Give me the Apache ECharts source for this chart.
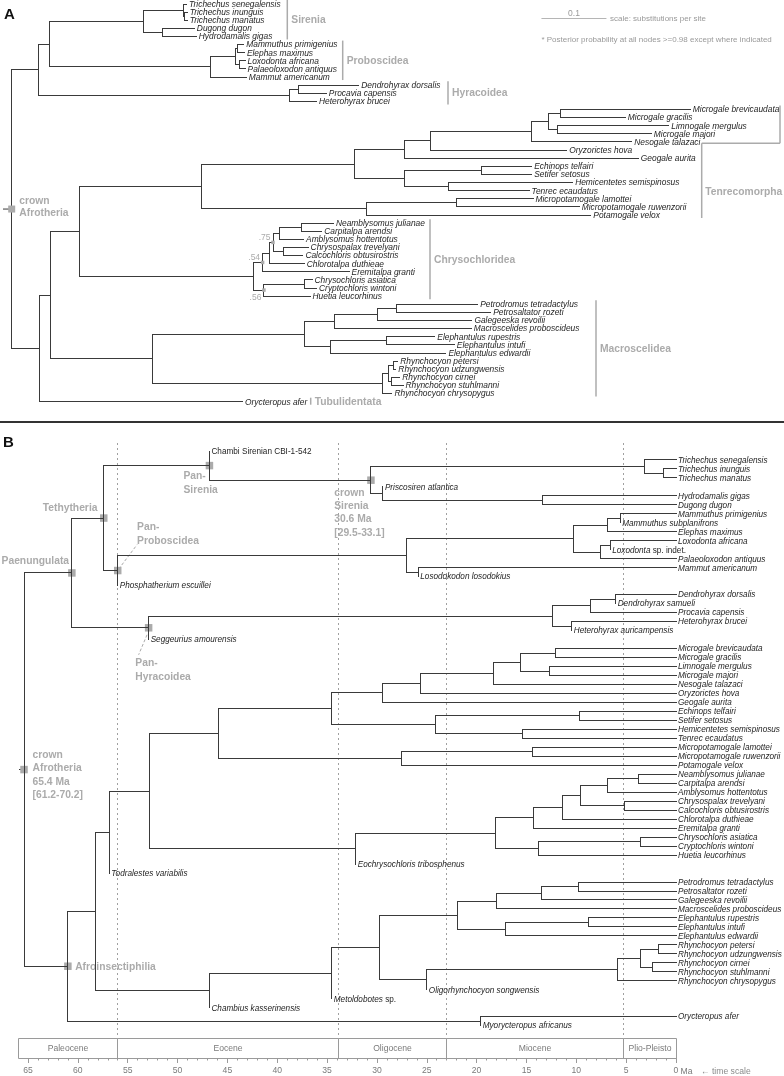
<!DOCTYPE html>
<html>
<head>
<meta charset="utf-8">
<script src="https://cdn.jsdelivr.net/npm/echarts@6/dist/echarts.min.js"></script>
<style>
html,body{margin:0;padding:0;background:#fff;}
#chart{width:784px;height:1076px;}
</style>
</head>
<body>
<div id="chart"></div>
<script>
// ================= PANEL A : phylogram (substitutions per site) =================
const tipsA = ['Trichechus senegalensis','Trichechus inunguis','Trichechus manatus','Dugong dugon','Hydrodamalis gigas',
 'Mammuthus primigenius','Elephas maximus','Loxodonta africana','Palaeoloxodon antiquus','Mammut americanum',
 'Dendrohyrax dorsalis','Procavia capensis','Heterohyrax brucei',
 'Microgale brevicaudata','Microgale gracilis','Limnogale mergulus','Microgale majori','Nesogale talazaci','Oryzorictes hova','Geogale aurita',
 'Echinops telfairi','Setifer setosus','Hemicentetes semispinosus','Tenrec ecaudatus','Micropotamogale lamottei','Micropotamogale ruwenzorii','Potamogale velox',
 'Neamblysomus julianae','Carpitalpa arendsi','Amblysomus hottentotus','Chrysospalax trevelyani','Calcochloris obtusirostris','Chlorotalpa duthieae','Eremitalpa granti',
 'Chrysochloris asiatica','Cryptochloris wintoni','Huetia leucorhinus',
 'Petrodromus tetradactylus','Petrosaltator rozeti','Galegeeska revoilii','Macroscelides proboscideus','Elephantulus rupestris','Elephantulus intufi','Elephantulus edwardii',
 'Rhynchocyon petersi','Rhynchocyon udzungwensis','Rhynchocyon cirnei','Rhynchocyon stuhlmanni','Rhynchocyon chrysopygus','Orycteropus afer'];
// root-to-tip distance of each tip
const tipLenA = [0.269,0.270,0.270,0.281,0.284, 0.357,0.358,0.359,0.359,0.361, 0.534,0.484,0.469,
 1.044,0.944,1.011,0.984,0.954,0.854,0.964, 0.800,0.800,0.863,0.796,0.802,0.873,0.891,
 0.495,0.477,0.449,0.456,0.448,0.450,0.519, 0.462,0.469,0.459,
 0.717,0.737,0.708,0.707,0.651,0.681,0.668, 0.594,0.591,0.597,0.602,0.585, 0.355];
// internal nodes: tip range covered and root-to-node distance
const nodeSpanA = [[0,49],[0,12],[0,9],[0,4],[0,2],[1,2],[3,4],[5,9],[5,8],[5,6],[7,8],[10,12],[10,11],
 [13,49],[13,48],[13,36],[13,26],[13,23],[13,19],[13,18],[13,17],[13,16],[13,14],[15,16],[20,23],[20,21],[22,23],[24,26],[24,25],
 [27,36],[27,33],[27,32],[27,31],[27,29],[27,28],[30,31],[34,36],[34,35],
 [37,48],[37,43],[37,40],[37,39],[37,38],[41,43],[41,42],[44,48],[44,47],[44,45],[46,47]];
const nodeLenA = [0,0.041,0.058,0.203,0.264,0.266,0.232,0.306,0.344,0.348,0.350,0.428,0.441,
 0.043,0.059,0.105,0.292,0.528,0.605,0.644,0.800,0.826,0.844,0.839,0.605,0.723,0.672,0.546,0.685,
 0.372,0.386,0.396,0.402,0.412,0.446,0.418,0.388,0.450,
 0.217,0.451,0.497,0.562,0.592,0.490,0.576,0.571,0.579,0.587,0.585];
const supportSpanA = [[27,31],[27,33],[34,36]];
const supportValA = ['.75','.54','.56'];
const cladeNamesA = ['Sirenia','Proboscidea','Hyracoidea','Tenrecomorpha','Chrysochloridea','Macroscelidea','Tubulidentata'];
const cladeTipsA = [[0,4],[5,9],[10,12],[13,26],[27,36],[37,48],[49,49]];
const scaleBarA = 0.1;

// ================= PANEL B : time tree (Ma) =================
const tipsB = ['Chambi Sirenian CBI-1-542','Trichechus senegalensis','Trichechus inunguis','Trichechus manatus','Priscosiren atlantica','Hydrodamalis gigas','Dugong dugon',
 'Mammuthus primigenius','Mammuthus subplanifrons','Elephas maximus','Loxodonta africana','Loxodonta sp. indet.','Palaeoloxodon antiquus','Mammut americanum','Losodokodon losodokius','Phosphatherium escuillei',
 'Dendrohyrax dorsalis','Dendrohyrax samueli','Procavia capensis','Heterohyrax brucei','Heterohyrax auricampensis','Seggeurius amourensis',
 'Microgale brevicaudata','Microgale gracilis','Limnogale mergulus','Microgale majori','Nesogale talazaci','Oryzorictes hova','Geogale aurita',
 'Echinops telfairi','Setifer setosus','Hemicentetes semispinosus','Tenrec ecaudatus','Micropotamogale lamottei','Micropotamogale ruwenzorii','Potamogale velox',
 'Neamblysomus julianae','Carpitalpa arendsi','Amblysomus hottentotus','Chrysospalax trevelyani','Calcochloris obtusirostris','Chlorotalpa duthieae','Eremitalpa granti',
 'Chrysochloris asiatica','Cryptochloris wintoni','Huetia leucorhinus','Eochrysochloris tribosphenus','Todralestes variabilis',
 'Petrodromus tetradactylus','Petrosaltator rozeti','Galegeeska revoilii','Macroscelides proboscideus','Elephantulus rupestris','Elephantulus intufi','Elephantulus edwardii',
 'Rhynchocyon petersi','Rhynchocyon udzungwensis','Rhynchocyon cirnei','Rhynchocyon stuhlmanni','Rhynchocyon chrysopygus','Oligorhynchocyon songwensis','Metoldobotes sp.','Chambius kasserinensis',
 'Orycteropus afer','Myorycteropus africanus'];
// tip age (Ma); null = fossil sampled on its node
const tipAgeB = [null,0,0,0,null,0,0, 0,null,0,0,null,0,0,null,null, 0,null,0,0,null,null,
 0,0,0,0,0,0,0, 0,0,0,0,0,0,0, 0,0,0,0,0,0,0, 0,0,0,null,null,
 0,0,0,0,0,0,0, 0,0,0,0,0,null,null,null, 0,null];
const nodeSpanB = [[0,64],[0,21],[0,15],[0,6],[1,6],[1,3],[2,3],[4,6],[5,6],
 [7,15],[7,14],[7,12],[7,9],[7,8],[10,12],[10,11],[13,14],
 [16,21],[16,20],[16,18],[16,17],[19,20],
 [22,64],[22,62],[22,47],[22,46],[22,35],[22,32],[22,28],[22,27],[22,26],[22,25],[22,23],[24,25],[29,32],[29,30],[31,32],[33,35],[33,34],
 [36,46],[36,45],[36,42],[36,41],[36,40],[36,38],[36,37],[39,40],[43,45],[43,44],
 [48,62],[48,61],[48,60],[48,54],[48,51],[48,50],[48,49],[52,54],[52,53],[55,60],[55,59],[55,58],[55,56],[57,58],[63,64]];
const nodeAgeB = [65.4,60.6,57.4,46.8,30.6,3.2,1.3,29.4,13.4,
 56.0,27.0,10.3,6.85,5.6,7.6,6.6,25.85,
 52.9,12.4,8.55,6.05,10.46,
 61.0,58.2,56.84,52.83,45.9,34.53,29.42,25.58,18.33,15.55,12.04,12.64,24.17,9.63,15.38,27.58,14.37,
 32.13,18.15,14.31,11.36,9.53,6.85,3.78,5.12,13.81,3.54,
 46.8,34.53,29.76,21.9,17.98,13.47,9.73,17.08,8.8,25.0,5.85,3.54,1.78,2.34,19.59];
const epochNames = ['Paleocene','Eocene','Oligocene','Miocene','Plio-Pleisto'];
const epochBounds = [66,56,33.9,23,5.3,0];

// ================= layout / style constants =================
const FONT = '"Liberation Sans", Arial, Helvetica, sans-serif';
const INK = '#3a3a3a';
const GREY = '#ababab';
const TS_TOP = 1038, TS_H = 20;

function layoutTree(spans, nodeVals, tipVals) {
  const nodes = spans.map((s, i) => ({from: s[0], to: s[1], x: nodeVals[i], key: s[0] + '-' + s[1]}));
  nodes.sort((a, b) => (b.to - b.from) - (a.to - a.from));
  const segs = [], pos = {}, tipPos = [];
  function visit(nd, parentX) {
    if (nd.tip !== undefined) {
      const x = tipVals[nd.tip] == null ? parentX : tipVals[nd.tip];
      tipPos[nd.tip] = [x, nd.tip];
      return {x: x, y: nd.tip};
    }
    const kids = [];
    let p = nd.from;
    while (p <= nd.to) {
      let best = null;
      for (const m of nodes) {
        if (m !== nd && m.from === p && m.to <= nd.to && (!best || m.to > best.to)) best = m;
      }
      if (best) { kids.push(best); p = best.to + 1; } else { kids.push({tip: p}); p++; }
    }
    const kp = kids.map(k => visit(k, nd.x));
    const y = (kp[0].y + kp[kp.length - 1].y) / 2;
    segs.push([nd.x, kp[0].y, nd.x, kp[kp.length - 1].y]);
    kp.forEach(c => { if (c.x !== nd.x) segs.push([nd.x, c.y, c.x, c.y]); });
    pos[nd.key] = [nd.x, y];
    return {x: nd.x, y: y};
  }
  visit(nodes[0], nodes[0].x);
  return {segs, pos, tipPos};
}
const LA = layoutTree(nodeSpanA, nodeLenA, tipLenA);
const LB = layoutTree(nodeSpanB, nodeAgeB, tipAgeB);

const px = v => Math.round(v - 0.5) + 0.5;
function segRender(color, width) {
  return function (params, api) {
    const a = api.coord([api.value(0), api.value(1)]);
    const b = api.coord([api.value(2), api.value(3)]);
    return {type: 'line', shape: {x1: px(a[0]), y1: px(a[1]), x2: px(b[0]), y2: px(b[1])},
      style: {stroke: color, lineWidth: width, lineCap: 'square'}};
  };
}
function tipStyle(name, size) {
  const base = {fill: '#1e1e1e', fontSize: size, fontFamily: FONT, align: 'left', verticalAlign: 'middle'};
  if (/CBI/.test(name)) return Object.assign(base, {text: name, fontStyle: 'normal'});
  const m = name.match(/^(\S+) (sp\..*)$/);
  if (m) {
    return Object.assign(base, {text: '{i|' + m[1] + '}{n| ' + m[2] + '}', rich: {
      i: {fontStyle: 'italic', fontSize: size, fontFamily: FONT, fill: '#1e1e1e'},
      n: {fontStyle: 'normal', fontSize: size, fontFamily: FONT, fill: '#1e1e1e'}}});
  }
  return Object.assign(base, {text: name, fontStyle: 'italic'});
}
function labelRender(names, dx, size) {
  return function (params, api) {
    const p = api.coord([api.value(0), api.value(1)]);
    return {type: 'text', x: p[0] + dx, y: p[1] + 0.5, style: tipStyle(names[api.value(2)], size)};
  };
}
function T(text, x, y, o) {
  return {type: 'text', x: x, y: y, style: Object.assign({text: text, fill: GREY, fontSize: 10.3, fontWeight: 'bold',
    fontFamily: FONT, align: 'left', verticalAlign: 'middle'}, o || {})};
}
function Ln(x1, y1, x2, y2, o) {
  return {type: 'line', shape: {x1: x1, y1: y1, x2: x2, y2: y2}, style: Object.assign({stroke: GREY, lineWidth: 1.5}, o || {})};
}
function Sq(x, y, s, c) {
  return {type: 'rect', shape: {x: x - s / 2, y: y - s / 2, width: s, height: s}, style: {fill: c || GREY}};
}

// ---- decorations panel A
const CLADE_BAR_X = [287.3, 342.7, 448, 701.7, 430, 596, 310.7];
function decorA(params, api) {
  const ch = [];
  const C = (x, y) => api.coord([x, y]);
  cladeNamesA.forEach((nm, k) => {
    const r = cladeTipsA[k];
    const top = C(0, r[0])[1] - 4, bot = C(0, r[1])[1] + 3;
    const bx = CLADE_BAR_X[k];
    if (nm === 'Tenrecomorpha') {
      const step = C(0, 17)[1] + 1.3;
      ch.push(Ln(780, top, 780, step), Ln(bx, step, 780, step), Ln(bx, step, bx, bot));
      ch.push(T(nm, bx + 3.5, 192.3));
    } else {
      ch.push(Ln(bx, top, bx, bot));
      ch.push(T(nm, bx + 4, (top + bot) / 2 + 0.5));
    }
  });
  // root stub, square and label
  const root = LA.pos['0-49'];
  const rp = C(root[0], root[1]);
  ch.push(Ln(rp[0] - 8.7, rp[1], rp[0], rp[1], {stroke: INK, lineWidth: 1}));
  ch.push(Sq(rp[0], rp[1], 7));
  ch.push(T('crown', rp[0] + 7.6, rp[1] - 8), T('Afrotheria', rp[0] + 7.6, rp[1] + 4.3));
  // posterior support
  const sdy = [-5, -5, 8];
  supportSpanA.forEach((s, k) => {
    const p = LA.pos[s[0] + '-' + s[1]];
    const q = C(p[0], p[1]);
    ch.push(Sq(q[0], q[1], 3.5));
    ch.push(T(supportValA[k], q[0] - 2.5, q[1] + sdy[k], {fontWeight: 'normal', fontSize: 8.5, align: 'right'}));
  });
  // scale bar
  const b0 = C(0.815, 0)[0], b1 = C(0.815 + scaleBarA, 0)[0];
  ch.push(Ln(b0, 18.5, b1, 18.5, {stroke: '#b5b5b5', lineWidth: 1}));
  ch.push(T(String(scaleBarA), (b0 + b1) / 2, 13.5, {fontWeight: 'normal', fontSize: 8.5, align: 'center', fill: '#999'}));
  ch.push(T('scale: substitutions per site', b1 + 3.5, 18.5, {fontWeight: 'normal', fontSize: 8, fill: '#999'}));
  ch.push(T('* Posterior probability at all nodes >=0.98 except where indicated', b0, 40, {fontWeight: 'normal', fontSize: 8, fill: '#999'}));
  return {type: 'group', children: ch};
}

// ---- decorations panel B
const annB = [
  {key: '0-64', lines: ['crown', 'Afrotheria', '65.4 Ma', '[61.2-70.2]'], dx: 8.5, dy: -14.7},
  {key: '0-21', lines: ['Paenungulata'], dx: -2.8, dy: -12, align: 'right'},
  {key: '0-15', lines: ['Tethytheria'], dx: -6.3, dy: -9.5, align: 'right'},
  {key: '0-6', lines: ['Pan-', 'Sirenia'], dx: -26, dy: 11},
  {key: '1-6', lines: ['crown', 'Sirenia', '30.6 Ma', '[29.5-33.1]'], dx: -36.7, dy: 12.5},
  {key: '7-15', lines: ['Pan-', 'Proboscidea'], dx: 19.4, dy: -43.2, lead: [1, -1.5, 19.4, -26]},
  {key: '16-21', lines: ['Pan-', 'Hyracoidea'], dx: -13.3, dy: 35.5, lead: [-1.6, 7, -10, 27]},
  {key: '22-64', lines: ['Afroinsectiphilia'], dx: 7.3, dy: 0.5}
];
function decorB(params, api) {
  const ch = [];
  const C = (x, y) => api.coord([x, y]);
  // epoch boundaries (dotted)
  epochBounds.slice(1, -1).forEach(t => {
    const x = px(C(t, 0)[0]);
    ch.push(Ln(x, params.coordSys.y - 8, x, TS_TOP, {stroke: '#a0a0a0', lineWidth: 1, lineDash: [2, 3]}));
  });
  // root stub
  const root = LB.pos['0-64'];
  const rp = C(root[0], root[1]);
  ch.push(Ln(rp[0] - 5, px(rp[1]), rp[0], px(rp[1]), {stroke: INK, lineWidth: 1}));
  annB.forEach(a => {
    const p = LB.pos[a.key];
    const q = C(p[0], p[1]);
    if (a.lead) ch.push(Ln(q[0] + a.lead[0], q[1] + a.lead[1], q[0] + a.lead[2], q[1] + a.lead[3], {lineWidth: 1, lineDash: [3, 2]}));
    ch.push(Sq(q[0], q[1], 7.5));
    a.lines.forEach((s, i) => ch.push(T(s, q[0] + a.dx, q[1] + a.dy + i * 13.4, {align: a.align || 'left'})));
  });
  return {type: 'group', children: ch};
}

// ---- time scale boxes
function decorTS(params, api) {
  const ch = [];
  const X = t => api.coord([t, 0])[0];
  for (let k = 0; k < epochNames.length; k++) {
    const x1 = px(X(epochBounds[k])), x2 = px(X(epochBounds[k + 1]));
    ch.push({type: 'rect', shape: {x: x1, y: TS_TOP + 0.5, width: x2 - x1, height: TS_H},
      style: {fill: 'none', stroke: '#9a9a9a', lineWidth: 1}});
    ch.push(T(epochNames[k], (x1 + x2) / 2, TS_TOP + TS_H / 2 + 0.5,
      {fontWeight: 'normal', fontSize: 8.6, fill: '#7a7a7a', align: 'center'}));
  }
  const x0 = X(0);
  ch.push(T('Ma', x0 + 4.5, TS_TOP + TS_H + 14, {fontWeight: 'normal', fontSize: 8.6, fill: '#7a7a7a'}));
  ch.push(T('\u2190 time scale', x0 + 25, TS_TOP + TS_H + 14, {fontWeight: 'normal', fontSize: 8.6, fill: '#8a8a8a'}));
  return {type: 'group', children: ch};
}

const chart = echarts.init(document.getElementById('chart'), null, {renderer: 'canvas'});
chart.setOption({
  animation: false,
  backgroundColor: '#fff',
  grid: [
    {left: 11.7, top: 4, width: 650, height: 397.7},
    {left: 28, top: 451, width: 648, height: 574.7},
    {left: 28, top: TS_TOP, width: 648, height: TS_H}
  ],
  xAxis: [
    {gridIndex: 0, type: 'value', min: 0, max: 1, show: false},
    {gridIndex: 1, type: 'value', min: 0, max: 65, inverse: true, show: false},
    {gridIndex: 2, type: 'value', min: 0, max: 65, inverse: true, interval: 5, position: 'bottom',
      axisLine: {show: true, lineStyle: {color: '#9a9a9a', width: 1}},
      axisTick: {show: true, length: 5, lineStyle: {color: '#9a9a9a'}},
      minorTick: {show: true, splitNumber: 5, length: 2.5, lineStyle: {color: '#9a9a9a'}},
      splitLine: {show: false}, minorSplitLine: {show: false},
      axisLabel: {show: true, color: '#7a7a7a', fontSize: 8.6, fontFamily: FONT, margin: 8,
        formatter: v => String(v)}}
  ],
  yAxis: [
    {gridIndex: 0, type: 'value', min: 0, max: 49, inverse: true, show: false},
    {gridIndex: 1, type: 'value', min: 0, max: 64, inverse: true, show: false},
    {gridIndex: 2, type: 'value', min: 0, max: 1, show: false}
  ],
  graphic: [
    {type: 'text', left: 4, top: 7, style: {text: 'A', font: 'bold 15px ' + FONT, fill: '#111'}},
    {type: 'text', left: 3, top: 435, style: {text: 'B', font: 'bold 15px ' + FONT, fill: '#111'}},
    {type: 'line', shape: {x1: 0, y1: 422, x2: 784, y2: 422}, style: {stroke: '#333', lineWidth: 2}}
  ],
  series: [
    {type: 'custom', xAxisIndex: 0, yAxisIndex: 0, silent: true, data: LA.segs, renderItem: segRender(INK, 1)},
    {type: 'custom', xAxisIndex: 0, yAxisIndex: 0, silent: true,
      data: LA.tipPos.map((p, i) => [p[0], p[1], i]), renderItem: labelRender(tipsA, 2.5, 8.4)},
    {type: 'custom', xAxisIndex: 0, yAxisIndex: 0, silent: true, data: [[0, 0]], renderItem: decorA},
    {type: 'custom', xAxisIndex: 1, yAxisIndex: 1, silent: true, data: [[0, 0]], renderItem: decorB, z: 1},
    {type: 'custom', xAxisIndex: 1, yAxisIndex: 1, silent: true, data: LB.segs, renderItem: segRender(INK, 1), z: 2},
    {type: 'custom', xAxisIndex: 1, yAxisIndex: 1, silent: true,
      data: LB.tipPos.map((p, i) => [p[0], p[1], i]), renderItem: labelRender(tipsB, 2, 8.2), z: 3},
    {type: 'custom', xAxisIndex: 2, yAxisIndex: 2, silent: true, data: [[0, 0]], renderItem: decorTS}
  ]
});
</script>
</body>
</html>
